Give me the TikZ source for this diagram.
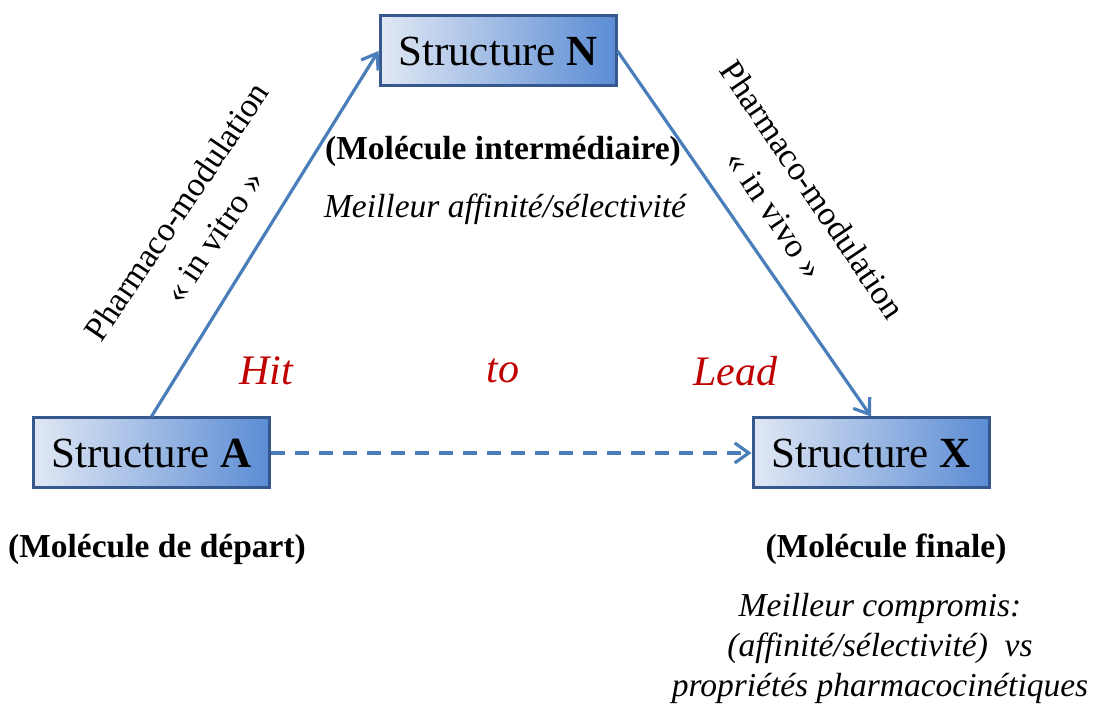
\documentclass[tikz,border=0pt]{standalone}
\usepackage{fontspec}
\setmainfont{Liberation Serif}
\usetikzlibrary{arrows.meta}
\definecolor{boxlight}{HTML}{E1E8F4}
\definecolor{boxmid}{HTML}{C3D3EE}
\definecolor{boxdark}{HTML}{5B8CD4}
\definecolor{boxline}{HTML}{35598F}
\definecolor{routeblue}{HTML}{4A7EBB}
\definecolor{leadred}{HTML}{C00000}
\tikzstyle{structure}=[
  rectangle,
  draw=boxline,
  line width=1.5pt,
  left color=boxlight,
  middle color=boxmid,
  right color=boxdark,
  minimum width=118pt,
  minimum height=35pt,
  inner sep=0pt,
  font=\fontsize{21.5}{25}\selectfont,
  ]
\tikzstyle{route}=[ routeblue, line width=1.6pt, -{Straight Barb[length=7pt,width=10pt]} ]
\tikzstyle{direct route}=[ route, dash pattern=on 7pt off 5pt ]
\tikzstyle{caption}=[ font=\fontsize{16.75}{20}\selectfont\bfseries ]
\tikzstyle{remark}=[ align=center, font=\fontsize{16.75}{20}\selectfont\itshape ]
\tikzstyle{step label}=[ align=center, font=\fontsize{17}{22.5}\selectfont ]
\tikzstyle{hit lead}=[ text=leadred, font=\fontsize{21}{25}\selectfont\itshape ]

\begin{document}
\begin{tikzpicture}[
    x=0.5pt,
    y=-0.5pt,
    ]
    \useasboundingbox (0,0) rectangle (1093,704);

    \node[structure] (sA) at (151.5,453) {Structure \textbf{A}};
    \node[structure] (sN) at (498,51) {Structure \textbf{N}};
    \node[structure] (sX) at (871,453) {Structure \textbf{X}};

    \draw[route] (sA.north) -- (sN.west);
    \draw[route] (sN.east) -- (sX.north);
    \draw[direct route] (sA.east) -- (sX.west);

    \node[step label, rotate=56] (vitro) at (195,224) {Pharmaco-modulation\\« in vitro »};
    \node[step label, rotate=-56] (vivo) at (794,202) {Pharmaco-modulation\\« in vivo »};

    \node[caption] (capN) at (503,151) {(Molécule intermédiaire)};
    \node[remark] (remN) at (505,209) {Meilleur affinité/sélectivité};

    \node[hit lead] (hit) at (266,371) {Hit};
    \node[hit lead] (to) at (503,371) {to};
    \node[hit lead] (lead) at (735,371) {Lead};

    \node[caption] (capA) at (157,549) {(Molécule de départ)};
    \node[caption] (capX) at (886,549) {(Molécule finale)};
    \node[remark] (remX) at (880,648) {Meilleur compromis:\\(affinité/sélectivité)\ \ vs\\propriétés pharmacocinétiques};
  \end{tikzpicture}
\end{document}
